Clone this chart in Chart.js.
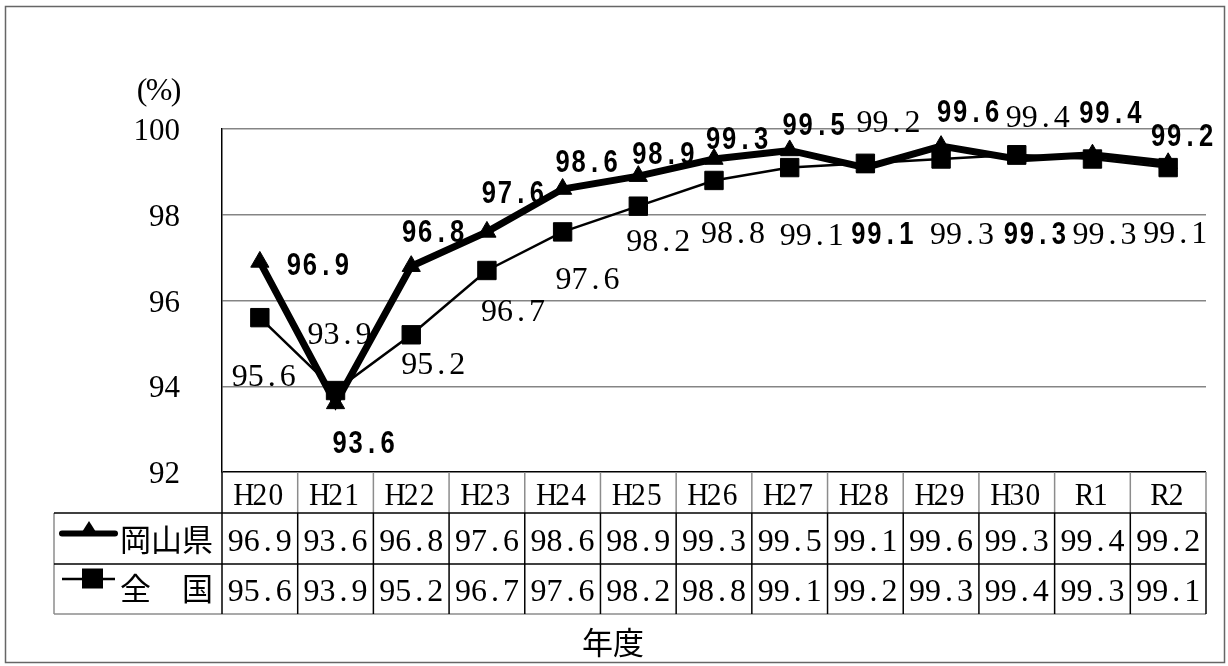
<!DOCTYPE html>
<html>
<head>
<meta charset="utf-8">
<script src="https://cdn.jsdelivr.net/npm/chart.js@4"></script>
<style>
html,body{margin:0;padding:0;background:#fff;}
canvas{display:block;}
</style>
</head>
<body>
<canvas id="c" width="1228" height="666" style="width:1228px;height:666px"></canvas>
<script>
// ---- data ----
const categories = ['H20','H21','H22','H23','H24','H25','H26','H27','H28','H29','H30','R1','R2'];
const okayama  = [96.9,93.6,96.8,97.6,98.6,98.9,99.3,99.5,99.1,99.6,99.3,99.4,99.2];
const national = [95.6,93.9,95.2,96.7,97.6,98.2,98.8,99.1,99.2,99.3,99.4,99.3,99.1];
const seriesNames = ['岡山県','全　国'];
const yMin = 92, yMax = 100, yStep = 2;
const yUnit = '(%)';
const xTitle = '年度';

// ---- label placement (styling, pixels relative to each point) ----
const okLabelOffsets  = [[58,2],[28,38],[22,-36],[26,-40],[24,-29],[25,-24],[23,-22],[24,-27],[17,65],[27,-36],[18,73],[18,-43],[14,-29]];
const natLabelOffsets = [[4,58],[4,-57],[22,29],[26,40],[25,47],[20,34],[19,52],[22,67],[23,-42],[21,74],[21,-38],[12,74],[7,65]];

const SERIF = '32px "Liberation Serif", "DejaVu Serif", serif';
const BOLD = 'bold 32px "Liberation Sans", Arial, sans-serif';
const CJK = '31px "Noto Sans CJK JP", sans-serif';
const PITCH = 16;

function drawPitch(ctx, text, cx, baseY, pitch, font, sx) {
  sx = sx || 1;
  ctx.font = font;
  ctx.textAlign = 'center';
  ctx.textBaseline = 'alphabetic';
  const chars = Array.from(text);
  const x0 = cx - chars.length * pitch / 2;
  chars.forEach((ch, k) => {
    ctx.save();
    ctx.translate(x0 + (k + 0.5) * pitch, baseY);
    ctx.scale(sx, 1);
    ctx.fillText(ch, 0, 0);
    ctx.restore();
  });
}

const decor = {
  id: 'decor',
  beforeDraw(chart) {
    const ctx = chart.ctx;
    ctx.save();
    ctx.fillStyle = '#fff';
    ctx.fillRect(0, 0, chart.width, chart.height);
    ctx.strokeStyle = '#666';
    ctx.lineWidth = 1.5;
    ctx.strokeRect(5.5, 6.5, 1219, 656);
    ctx.restore();
  },
  afterDraw(chart) {
    const ctx = chart.ctx;
    const xs = chart.scales.x;
    const area = chart.chartArea;
    const n = categories.length;
    const band = (area.right - area.left) / n;
    ctx.save();
    ctx.fillStyle = '#000';

    // unit label
    drawPitch(ctx, yUnit, 159, 100, 17, SERIF);

    // data labels
    const metaOk = chart.getDatasetMeta(0);
    const metaNat = chart.getDatasetMeta(1);
    okayama.forEach((v, i) => {
      const p = metaOk.data[i];
      const [dx, dy] = okLabelOffsets[i];
      drawPitch(ctx, v.toFixed(1), p.x + dx, p.y + dy + 11.5, PITCH, BOLD, 0.8);
    });
    national.forEach((v, i) => {
      const p = metaNat.data[i];
      const [dx, dy] = natLabelOffsets[i];
      drawPitch(ctx, v.toFixed(1), p.x + dx, p.y + dy + 10.5, PITCH, SERIF);
    });

    // data table
    const top = area.bottom, hdrB = 513, r1B = 564, r2B = 614, legL = 54;
    ctx.lineWidth = 1.5;
    ctx.strokeStyle = '#8c8c8c';
    for (let i = 1; i <= n; i++) {
      const x = area.left + i * band;
      ctx.beginPath(); ctx.moveTo(x, top); ctx.lineTo(x, hdrB); ctx.stroke();
    }
    ctx.beginPath(); ctx.moveTo(legL, hdrB); ctx.lineTo(legL, r2B); ctx.stroke();
    ctx.beginPath(); ctx.moveTo(legL, r2B); ctx.lineTo(area.right, r2B); ctx.stroke();
    ctx.strokeStyle = '#000';
    ctx.beginPath(); ctx.moveTo(area.left, top); ctx.lineTo(area.left, r2B); ctx.stroke();
    for (let i = 1; i <= n; i++) {
      const x = area.left + i * band;
      ctx.beginPath(); ctx.moveTo(x, hdrB); ctx.lineTo(x, r2B); ctx.stroke();
    }
    ctx.beginPath(); ctx.moveTo(legL, hdrB); ctx.lineTo(area.right, hdrB); ctx.stroke();
    ctx.beginPath(); ctx.moveTo(legL, r1B); ctx.lineTo(area.right, r1B); ctx.stroke();

    // table texts
    categories.forEach((c, i) => {
      const cx = xs.getPixelForValue(i);
      drawPitch(ctx, c, cx, 504.5, PITCH, SERIF, 0.92);
      drawPitch(ctx, okayama[i].toFixed(1), cx, 550.5, PITCH, SERIF);
      drawPitch(ctx, national[i].toFixed(1), cx, 600.5, PITCH, SERIF);
    });

    // legend keys
    ctx.strokeStyle = '#000';
    ctx.lineCap = 'round';
    ctx.lineWidth = 6;
    ctx.beginPath(); ctx.moveTo(62, 533.5); ctx.lineTo(115, 533.5); ctx.stroke();
    ctx.beginPath(); ctx.moveTo(89, 521); ctx.lineTo(98.5, 536); ctx.lineTo(79.5, 536); ctx.closePath(); ctx.fill();
    ctx.lineCap = 'butt';
    ctx.lineWidth = 2.5;
    ctx.beginPath(); ctx.moveTo(62, 579); ctx.lineTo(115, 579); ctx.stroke();
    ctx.fillRect(82, 568.5, 21, 20);

    ctx.font = CJK;
    ctx.textAlign = 'left';
    ctx.textBaseline = 'middle';
    ctx.fillText(seriesNames[0], 120, 539);
    ctx.fillText(seriesNames[1], 120, 588);

    ctx.textAlign = 'center';
    ctx.fillText(xTitle, 613, 642);
    ctx.restore();
  }
};

new Chart(document.getElementById('c'), {
  type: 'line',
  data: {
    labels: categories,
    datasets: [
      {
        label: seriesNames[0], data: okayama, order: 1,
        borderColor: '#000', backgroundColor: '#000', borderWidth: 7,
        pointStyle: 'triangle', pointRadius: 10.5, pointBorderWidth: 1,
        pointBackgroundColor: '#000', pointBorderColor: '#000', tension: 0
      },
      {
        label: seriesNames[1], data: national, order: 0,
        borderColor: '#000', backgroundColor: '#000', borderWidth: 2.5,
        pointStyle: 'rect', pointRadius: 13, pointBorderWidth: 1,
        pointBackgroundColor: '#000', pointBorderColor: '#000', tension: 0
      }
    ]
  },
  options: {
    responsive: false,
    animation: false,
    events: [],
    layout: { padding: { left: 0, right: 22, top: 129, bottom: 0 } },
    plugins: { legend: { display: false }, tooltip: { enabled: false } },
    scales: {
      x: {
        type: 'category', offset: true,
        grid: { display: false }, border: { display: false },
        ticks: { display: false },
        afterFit(s) { s.height = 194; }
      },
      y: {
        min: yMin, max: yMax,
        ticks: { stepSize: yStep, color: '#000', font: { family: '"Liberation Serif", serif', size: 31 }, padding: 42, labelOffset: 3 },
        grid: {
          drawTicks: false, lineWidth: 1.5,
          color: (c) => (c.tick && c.tick.value === yMin) ? '#000' : '#858585'
        },
        border: { color: '#000', width: 1.5 },
        afterFit(s) { s.width = 222; }
      }
    }
  },
  plugins: [decor]
});
</script>
</body>
</html>
